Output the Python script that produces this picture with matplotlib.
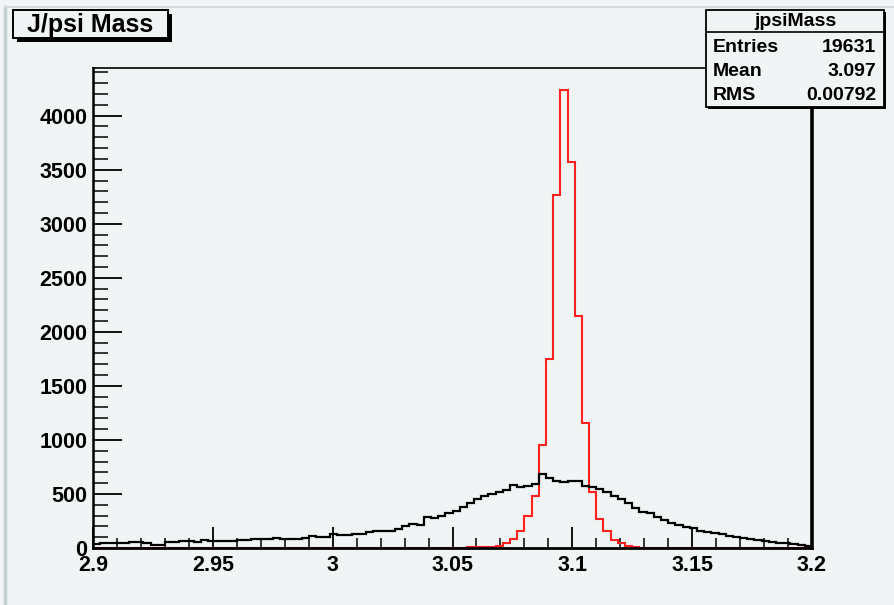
import numpy as np
import matplotlib
matplotlib.use('Agg')
import matplotlib.pyplot as plt
from matplotlib.patches import Rectangle
from matplotlib.ticker import MultipleLocator, FixedLocator

plt.rcParams['font.family'] = ['Liberation Sans', 'DejaVu Sans']
plt.rcParams['font.weight'] = 'bold'

# ---- data ----
x_min, x_max, n_bins = 2.9, 3.2, 100
y_max = 4441

red_counts = [
    0, 0, 0, 0, 0, 0, 0, 0, 0, 0,
    0, 0, 0, 0, 0, 0, 0, 0, 0, 0,
    0, 0, 0, 0, 0, 0, 0, 0, 0, 0,
    0, 0, 0, 0, 0, 0, 0, 0, 0, 0,
    0, 0, 0, 0, 0, 0, 0, 0, 0, 0,
    0, 0, 5, 8, 10, 12, 22, 48, 82, 155,
    295, 485, 954, 1747, 3268, 4241, 3568, 2148, 1160, 521,
    265, 155, 74, 49, 19, 8, 0, 0, 0, 0,
    0, 3, 0, 0, 0, 0, 0, 3, 3, 3,
    3, 3, 3, 3, 0, 3, 3, 3, 3, 3,
]

black_counts = [
    37, 46, 46, 46, 46, 55, 55, 46, 31, 31,
    55, 55, 68, 62, 55, 71, 62, 62, 62, 62,
    71, 71, 83, 86, 86, 92, 83, 82, 86, 95,
    108, 99, 99, 130, 120, 120, 125, 130, 148, 160,
    160, 160, 180, 200, 225, 215, 283, 280, 295, 320,
    345, 380, 420, 455, 480, 495, 520, 540, 580, 562,
    574, 593, 685, 645, 623, 614, 620, 620, 574, 565,
    545, 515, 481, 451, 414, 370, 330, 320, 290, 259,
    230, 210, 191, 182, 160, 145, 140, 130, 112, 100,
    95, 80, 70, 62, 54, 50, 42, 38, 28, 15,
]

x_major = [2.9, 2.95, 3.0, 3.05, 3.1, 3.15, 3.2]
x_labels = ['2.9', '2.95', '3', '3.05', '3.1', '3.15', '3.2']
y_major = [0, 500, 1000, 1500, 2000, 2500, 3000, 3500, 4000]

title_text = 'J/psi Mass'
stats_name = 'jpsiMass'
stats_rows = [('Entries', '19631'), ('Mean', '3.097'), ('RMS', '0.00792')]

# ---- figure ----
W, H = 894, 605
bg = '#f1f4f5'
fig = plt.figure(figsize=(W / 100, H / 100), dpi=100, facecolor=bg)

def fx(px):
    return px / W

def fy(py):
    return 1 - py / H

ax = fig.add_axes([fx(93), fy(548), fx(812) - fx(93), fy(68) - fy(548)])
ax.set_facecolor(bg)

edges = np.linspace(x_min, x_max, n_bins + 1)
ax.stairs(red_counts, edges, color='#ff2020', lw=1.5, zorder=2)
ax.stairs(black_counts, edges, color='black', lw=1.6, zorder=3)

ax.set_xlim(x_min, x_max)
ax.set_ylim(0, y_max)

ax.xaxis.set_major_locator(FixedLocator(x_major))
ax.set_xticklabels(x_labels)
ax.xaxis.set_minor_locator(MultipleLocator(0.01))
ax.yaxis.set_major_locator(FixedLocator(y_major))
ax.yaxis.set_minor_locator(MultipleLocator(100))

ax.tick_params(axis='x', which='major', direction='in', length=15, width=1.3,
               labelsize=15.5, pad=5, top=False)
ax.tick_params(axis='x', which='minor', direction='in', length=7, width=1.1, top=False)
ax.tick_params(axis='y', which='major', direction='in', length=21, width=1.3,
               labelsize=15.5, pad=4, right=False)
ax.tick_params(axis='y', which='minor', direction='in', length=11, width=1.1, right=False)
for lab in ax.get_xticklabels() + ax.get_yticklabels():
    lab.set_fontweight('bold')

ax.spines['left'].set_linewidth(1.8)
ax.spines['bottom'].set_linewidth(2.0)
ax.spines['right'].set_linewidth(2.6)
ax.spines['top'].set_linewidth(1.2)
for s in ax.spines.values():
    s.set_zorder(4)

# canvas bevel lines (left and top)
fig.add_artist(plt.Line2D([fx(5), fx(5)], [fy(7), fy(605)], color='#c3cfcf', lw=2.5))
fig.add_artist(plt.Line2D([fx(5), fx(894)], [fy(7), fy(7)], color='#d3dcdc', lw=1.5))

# title box with shadow
tb_l, tb_r, tb_t, tb_b = 13, 168, 10, 38
fig.add_artist(Rectangle((fx(tb_l + 4), fy(tb_b + 4)), fx(tb_r - tb_l), fy(tb_t) - fy(tb_b),
                         facecolor='black', edgecolor='black', lw=0, zorder=10))
fig.add_artist(Rectangle((fx(tb_l), fy(tb_b)), fx(tb_r - tb_l), fy(tb_t) - fy(tb_b),
                         facecolor=bg, edgecolor='black', lw=1.4, zorder=11))
fig.text(fx((tb_l + tb_r) / 2), fy((tb_t + tb_b) / 2 + 1), title_text, ha='center', va='center',
         fontsize=18, fontweight='bold', zorder=12)

# stats box
sb_l, sb_r, sb_t, sb_b = 706, 884, 10, 107
fig.add_artist(Rectangle((fx(sb_l + 2), fy(sb_b + 2)), fx(sb_r - sb_l), fy(sb_t) - fy(sb_b),
                         facecolor='black', edgecolor='black', lw=0, zorder=10))
fig.add_artist(Rectangle((fx(sb_l), fy(sb_b)), fx(sb_r - sb_l), fy(sb_t) - fy(sb_b),
                         facecolor=bg, edgecolor='black', lw=1.3, zorder=11))
fig.add_artist(plt.Line2D([fx(sb_l), fx(sb_r)], [fy(32), fy(32)], color='black', lw=1.2, zorder=12))
fig.text(fx((sb_l + sb_r) / 2), fy(21), stats_name, ha='center', va='center',
         fontsize=14, fontweight='bold', zorder=12)
row_y = [47, 72, 96]
for (name, val), ry in zip(stats_rows, row_y):
    fig.text(fx(713), fy(ry), name, ha='left', va='center', fontsize=14,
             fontweight='bold', zorder=12)
    fig.text(fx(876), fy(ry), val, ha='right', va='center', fontsize=14,
             fontweight='bold', zorder=12)

fig.savefig('out.png', dpi=100, facecolor=bg)
